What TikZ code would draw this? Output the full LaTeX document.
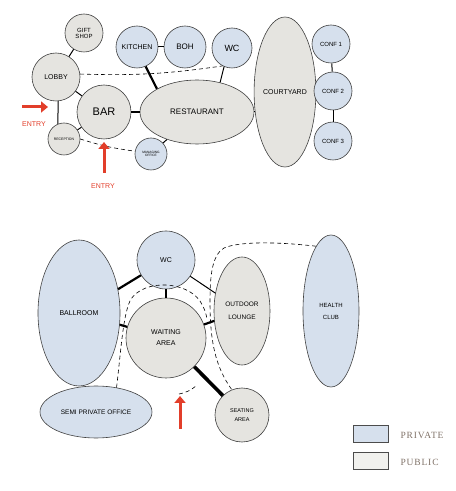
\documentclass[tikz,border=0pt]{standalone}
\usepackage{fontspec}
\setsansfont{Liberation Sans}
\newfontfamily\keyfont[LetterSpace=9]{Liberation Serif}
\usetikzlibrary{shapes.geometric,arrows.meta}
\definecolor{privblue}{RGB}{214,224,237}
\definecolor{pubgray}{RGB}{229,228,224}
\definecolor{keygray}{RGB}{241,241,238}
\definecolor{entryred}{RGB}{226,62,42}
\definecolor{keytextcol}{RGB}{128,114,104}
\newcommand{\roomfs}[1]{\fontsize{#1}{#1}\selectfont}
\tikzset{
  room/.style={draw=black!75,line width=0.6pt,inner sep=0pt,align=center,font=\sffamily\roomfs{6}},
  private/.style={room,fill=privblue},
  public/.style={room,fill=pubgray},
  disc/.style={circle,minimum size=#1},
  oval/.style 2 args={ellipse,minimum width=#1,minimum height=#2},
  link/.style={line width=1pt},
  heavy/.style={line width=2.2pt},
  heavier/.style={line width=3.6pt},
  loose/.style={line width=0.6pt,dash pattern=on 4pt off 3pt},
  entry/.style={entryred,line width=3pt,-{Triangle[length=7pt,width=11pt]}},
  entrytext/.style={entryred,font=\sffamily\roomfs{7}},
  keybox/.style={draw=black!70,line width=1pt,minimum width=35,minimum height=17,inner sep=0pt},
  keytext/.style={keytextcol,font=\keyfont\roomfs{9.5},anchor=west},
}
\begin{document}
\begin{tikzpicture}[x=1pt,y=1pt]
  \useasboundingbox (0,0) rectangle (456,491);
  \node[public,disc=38] (gift) at (84,458) {GIFT\\SHOP};
  \node[public,disc=48,font=\sffamily\roomfs{7}] (lobby) at (56,414) {LOBBY};
  \node[public,disc=54,font=\sffamily\roomfs{11}] (bar) at (104,379) {BAR};
  \node[public,disc=32,font=\sffamily\roomfs{3.5}] (recep) at (64,352) {RECEPTION};
  \node[private,disc=42,font=\sffamily\roomfs{7}] (kitchen) at (137,444) {KITCHEN};
  \node[private,disc=42,font=\sffamily\roomfs{8}] (boh) at (185,444) {BOH};
  \node[private,disc=40,font=\sffamily\roomfs{9}] (wc1) at (232,443) {WC};
  \node[public,oval={114}{64},font=\sffamily\roomfs{8}] (rest) at (197,379) {RESTAURANT};
  \node[private,disc=32,font=\sffamily\roomfs{3.2}] (mgr) at (151,337) {MANAGING\\OFFICE};
  \node[public,oval={56}{150},font=\sffamily\roomfs{7}] (court) at (285,399) {COURTYARD};
  \node[private,disc=38] (conf1) at (331,447) {CONF 1};
  \node[private,disc=38] (conf2) at (333,400) {CONF 2};
  \node[private,disc=38] (conf3) at (333,350) {CONF 3};

  \draw[link] (gift) -- (lobby);
  \draw[link] (lobby) -- (bar);
  \draw[link] (lobby.-85) -- (recep.112);
  \draw[link] (recep) -- (bar);
  \draw[heavy] (bar) -- (rest);
  \draw[link] (kitchen) -- (boh);
  \draw[heavy] (kitchen.-66) -- (rest.150);
  \draw[link] (wc1.-113) -- (rest.52);
  \draw[link] (rest.east) -- (rest.east -| court.west);
  \draw[link] (rest) -- (mgr);
  \draw[link] (conf1) -- (conf2);
  \draw[link] (conf2) -- (conf3);
  \draw[loose] (lobby.7) to[bend right=5] (wc1.-118);
  \draw[loose] (recep.east) to[bend right=5] (mgr.170);

  \coordinate (entryW) at (22,384);
  \coordinate (entryWtip) at (48,384);
  \coordinate (entryS) at (104,318);
  \coordinate (entryStip) at (104,349);
  \draw[entry] (entryW) -- (entryWtip);
  \draw[entry] (entryS) -- (entryStip);
  \node[entrytext] (entryWtext) at (34,367) {ENTRY};
  \node[entrytext] (entryStext) at (103,305) {ENTRY};

  \node[private,oval={82}{146},font=\sffamily\roomfs{7}] (ball) at (79,178) {BALLROOM};
  \node[private,disc=58,font=\sffamily\roomfs{7}] (wc2) at (166,231) {WC};
  \node[public,disc=80,font=\sffamily\roomfs{7}] (wait) at (166,153) {WAITING\\[4pt]AREA};
  \node[public,oval={56}{108},font=\sffamily\roomfs{6.5}] (lounge) at (242,180) {OUTDOOR\\[6pt]LOUNGE};
  \node[private,oval={112}{52},font=\sffamily\roomfs{6.5}] (semi) at (96,79) {SEMI PRIVATE OFFICE};
  \node[public,disc=54,font=\sffamily\roomfs{5.5}] (seat) at (242,76) {SEATING\\[3pt]AREA};
  \node[private,oval={56}{152}] (health) at (331,180) {HEALTH\\[6pt]CLUB};

  \draw[heavy] (wc2) -- (ball);
  \draw[heavy] (wc2) -- (wait);
  \draw[link] (wc2) -- (lounge);
  \draw[heavy] (wait) -- (ball);
  \draw[heavy] (wait) -- (lounge);
  \draw[heavier] (wait) -- (seat);

  \coordinate (ringend) at (207,172);
  \coordinate (gapA) at (179,97);
  \coordinate (gapB) at (197,106);
  \draw[loose] (semi.50) .. controls (121,140) and (123,178) .. (131,192)
    .. controls (145,212) and (186,210) .. (200,190)
    .. controls (204,184) and (206,178) .. (ringend);
  \draw[loose] (health.103) .. controls (280,249) and (240,250) .. (224,243)
    .. controls (212,236) and (210,215) .. (210,190)
    .. controls (210,150) and (215,125) .. (seat.112);
  \draw[loose] (gapA) to[bend right=15] (gapB);

  \coordinate (entryB) at (180,62);
  \coordinate (entryBtip) at (180,95);
  \draw[entry] (entryB) -- (entryBtip);

  \node[keybox,fill=privblue] (privkey) at (370.5,56.5) {};
  \node[keybox,fill=keygray] (pubkey) at (370.5,29.5) {};
  \node[keytext] (privtext) at (397,56) {PRIVATE};
  \node[keytext] (pubtext) at (397,29) {PUBLIC};
\end{tikzpicture}
\end{document}
